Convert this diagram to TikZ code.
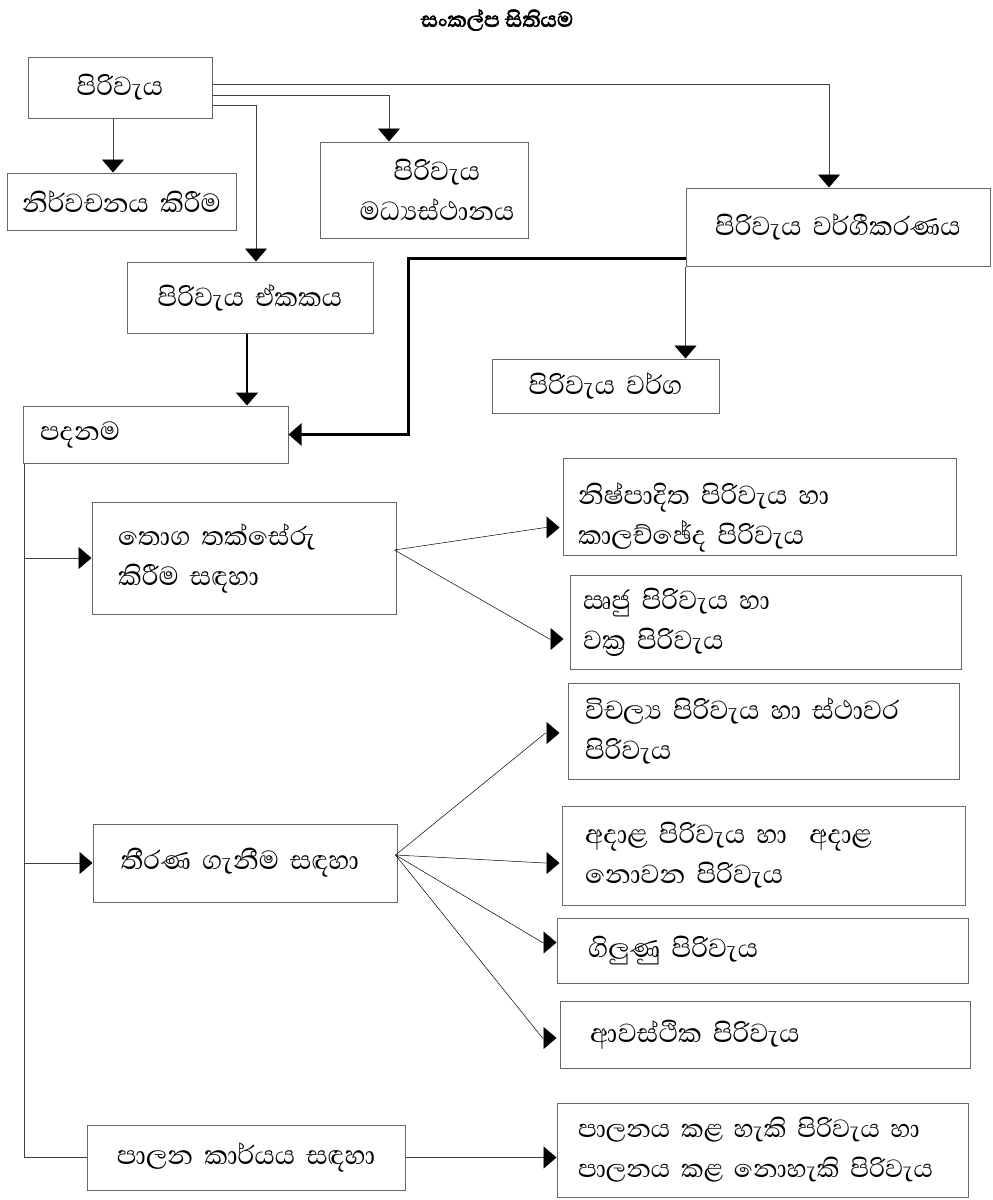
\documentclass[tikz,border=0pt]{standalone}
\usepackage{fontspec}
\usetikzlibrary{arrows.meta,calc}
\newfontfamily\sinhfont[Script=Sinhala]{Abhaya Libre}
\newfontfamily\titlefont[Script=Sinhala,FakeBold=2.5]{Abhaya Libre}

\begin{document}
\begin{tikzpicture}[x=1pt,y=-1pt,
  box/.style={draw=black!60, line width=1pt, inner ysep=0pt,
    font=\sinhfont\fontsize{33.5}{40}\selectfont},
  link/.style={draw=black!75, line width=0.9pt},
  thin/.style={draw=black, line width=0.5pt},
  heavy/.style={draw=black, line width=2.6pt},
  tip/.style={-{Triangle[width=22pt,length=13pt,color=black]}},
]
\useasboundingbox (0,0) rectangle (993,1200);

% title
\node[font=\titlefont\fontsize{27}{30}\selectfont] (title) at (497,20) {සංකල්ප සිතියම};

% upper boxes
\node[box, minimum width=184pt, minimum height=61pt, text width=170pt, inner xsep=7pt, align=center] (A) at (120,87.5) {පිරිවැය};
\node[box, minimum width=229pt, minimum height=57pt, text width=215pt, inner xsep=7pt, align=center] (nirv) at (121.5,201.5) {නිර්වචනය කිරීම};
\node[box, minimum width=208pt, minimum height=96pt, text width=194pt, inner xsep=7pt, align=center] (madhya) at (424,190) {\hspace*{26pt}පිරිවැය\\\hspace*{26pt}මධ්^^^^200dයස්ථානය};
\node[box, minimum width=246pt, minimum height=71pt, text width=232pt, inner xsep=7pt, align=center] (ekak) at (250,297.5) {පිරිවැය ඒකකය};
\node[box, minimum width=304pt, minimum height=78pt, text width=290pt, inner xsep=7pt, align=center] (vargi) at (838,227) {පිරිවැය වර්ගීකරණය};
\node[box, minimum width=227pt, minimum height=54pt, text width=213pt, inner xsep=7pt, align=center] (varga) at (605.5,386) {පිරිවැය වර්ග};
\node[box, minimum width=265pt, minimum height=57pt, text width=231pt, inner xsep=17pt, align=left] (padanama) at (155.5,434.5) {පදනම};

% purpose boxes
\node[box, minimum width=304pt, minimum height=112pt, text width=252pt, inner xsep=26pt, align=left] (thoga) at (244,558) {තොග තක්සේරු\\කිරීම සඳහා};
\node[box, minimum width=304pt, minimum height=78pt, text width=290pt, inner xsep=7pt, align=center] (thirana) at (245,863) {\hspace*{-10pt}තීරණ ගැනීම සඳහා};
\node[box, minimum width=318pt, minimum height=65pt, text width=304pt, inner xsep=7pt, align=center] (palana) at (246,1157.5) {පාලන කාර්යය සඳහා};

% cost type boxes
\node[box, minimum width=393pt, minimum height=97pt, text width=363pt, inner xsep=15pt, align=left] (nish) at (759.5,506.5) {\rule{0pt}{44pt}නිෂ්පාදිත පිරිවැය හා\\කාලච්ඡේද පිරිවැය};
\node[box, minimum width=391pt, minimum height=94pt, text width=365pt, inner xsep=13pt, align=left] (rju) at (765.5,622) {ඍජු පිරිවැය හා\\වක්^^^^200dර පිරිවැය};
\node[box, minimum width=391pt, minimum height=96pt, text width=357pt, inner xsep=17pt, align=left] (vichalya) at (763.5,731) {විචල්^^^^200dය පිරිවැය හා ස්ථාවර\\පිරිවැය};
\node[box, minimum width=403pt, minimum height=99pt, text width=357pt, inner xsep=23pt, align=left] (adala) at (763.5,855.5) {අදාළ පිරිවැය හා~ අදාළ\\නොවන පිරිවැය};
\node[box, minimum width=411pt, minimum height=65pt, text width=349pt, inner xsep=31pt, align=left] (gilunu) at (762.5,950.5) {ගිලුණු පිරිවැය};
\node[box, minimum width=410pt, minimum height=67pt, text width=350pt, inner xsep=30pt, align=left] (avas) at (765,1034.5) {ආවස්ථික පිරිවැය};
\node[box, minimum width=411pt, minimum height=94pt, text width=369pt, inner xsep=21pt, align=left,
  font=\sinhfont\fontsize{32}{40}\selectfont] (palanaya) at (762.5,1150) {\mbox{පාලනය කළ හැකි පිරිවැය හා}\\\mbox{පාලනය කළ නොහැකි පිරිවැය}};

% connectors from the cost box
\draw[link,tip] ([yshift=-28pt]A.north east) -| ([xshift=-9pt]vargi.north);
\draw[link,tip] ([yshift=-39pt]A.north east) -| ([xshift=-35pt]madhya.north);
\draw[link,tip] ([yshift=-49pt]A.north east) -| ([xshift=6pt]ekak.north);
\draw[link,tip] ([xshift=-7pt]A.south) -- ([xshift=-7pt]A.south |- nirv.north);

% heavy connectors into the basis box
\draw[heavy,tip] ([xshift=-3pt]ekak.south) -- ([xshift=-3pt]ekak.south |- padanama.north);
\draw[heavy,tip] ([yshift=8pt]vargi.south west) -| ([xshift=120pt]padanama.east) -- (padanama.east);
\draw[link,tip] (vargi.south west) -- (vargi.south west |- varga.north);

% spine down the left side
\coordinate (spine) at ([xshift=2pt]padanama.south west);
\draw[link] (spine) |- (palana.west);
\draw[link,tip] (spine |- thoga.west) -- (thoga.west);
\draw[link,tip] (spine |- thirana.west) -- (thirana.west);
\draw[link,tip] (palana.east) -- (palana.east -| palanaya.west);

% fan-out from inventory valuation
\draw[thin,tip] ([xshift=-2pt,yshift=8pt]thoga.east) -- ([xshift=-17pt,yshift=-21pt]nish.west) -- ([xshift=-3pt,yshift=-21pt]nish.west);
\draw[thin,tip] ([xshift=-2pt,yshift=8pt]thoga.east) -- ([xshift=-20pt,yshift=-17pt]rju.west) -- ([xshift=-6pt,yshift=-17pt]rju.west);

% fan-out from decision making
\draw[thin,tip] ([xshift=-2pt,yshift=8pt]thirana.east) -- ([xshift=-22pt,yshift=-2pt]vichalya.west) -- ([xshift=-8pt,yshift=-2pt]vichalya.west);
\draw[thin,tip] ([xshift=-2pt,yshift=8pt]thirana.east) -- ([xshift=-16pt,yshift=-7.5pt]adala.west) -- ([xshift=-2pt,yshift=-7.5pt]adala.west);
\draw[thin,tip] ([xshift=-2pt,yshift=8pt]thirana.east) -- ([xshift=-14pt,yshift=8pt]gilunu.west) -- ([yshift=8pt]gilunu.west);
\draw[thin,tip] ([xshift=-2pt,yshift=8pt]thirana.east) -- ([xshift=-17pt,yshift=-3.5pt]avas.west) -- ([xshift=-3pt,yshift=-3.5pt]avas.west);
\end{tikzpicture}
\end{document}
